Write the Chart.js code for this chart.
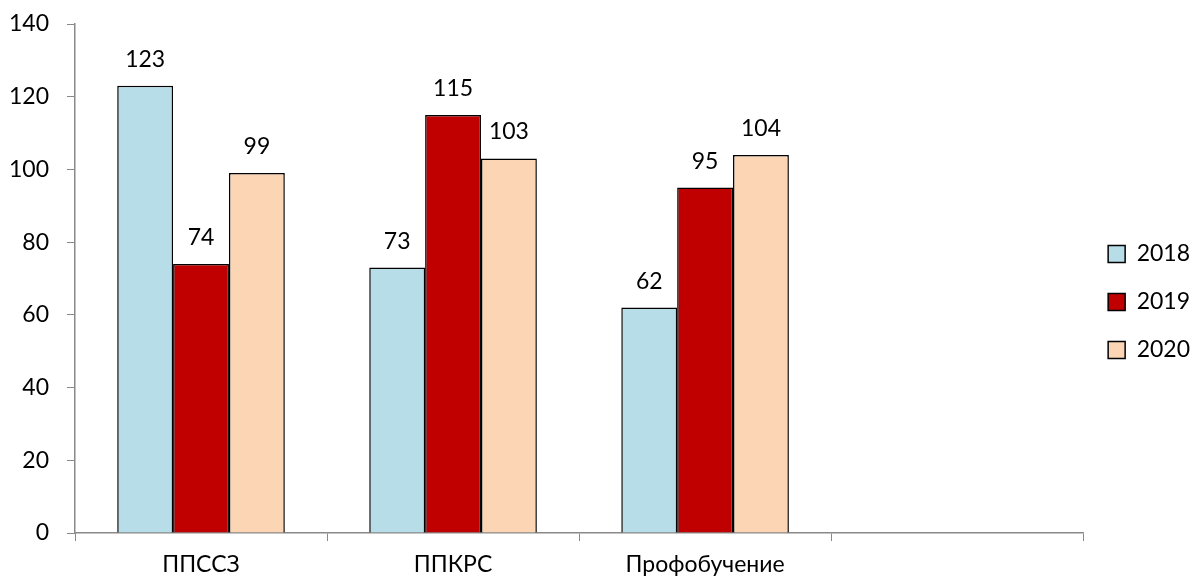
<!DOCTYPE html>
<html lang="ru">
<head>
  <meta charset="UTF-8">
  <title>ППССЗ / ППКРС / Профобучение</title>
  <script src="https://cdn.jsdelivr.net/npm/chart.js"></script>
  <style>
    html, body { margin: 0; padding: 0; background: #fff; }
    #wrap { width: 1200px; height: 580px; }
  </style>
</head>
<body>
  <div id="wrap"><canvas id="chart"></canvas></div>
  <script>
    // Категории (четвёртая пустая, как в оригинале)
    const categories = ['ППССЗ', 'ППКРС', 'Профобучение', ''];
    const years = ['2018', '2019', '2020'];
    const values2018 = [123, 73, 62, null];
    const values2019 = [74, 115, 95, null];
    const values2020 = [99, 103, 104, null];
    const yTicks = [0, 20, 40, 60, 80, 100, 120, 140];

    const fontFamily = 'Lato, "Open Sans", sans-serif';
    const fontSize = 23;
    const axisColor = '#898989';

    // Подписи значений над столбцами
    const barLabels = {
      id: 'barLabels',
      afterDatasetsDraw(chart) {
        const ctx = chart.ctx;
        ctx.save();
        ctx.font = fontSize + 'px ' + fontFamily;
        ctx.fillStyle = '#000';
        ctx.textAlign = 'center';
        ctx.textBaseline = 'bottom';
        chart.data.datasets.forEach((ds, i) => {
          chart.getDatasetMeta(i).data.forEach((bar, j) => {
            const v = ds.data[j];
            if (v === null || v === undefined) return;
            ctx.fillText(String(v), bar.x, bar.y - 15);
          });
        });
        ctx.restore();
      }
    };

    new Chart(document.getElementById('chart'), {
      type: 'bar',
      data: {
        labels: categories,
        datasets: [
          { label: years[0], data: values2018, backgroundColor: '#B7DDE8' },
          { label: years[1], data: values2019, backgroundColor: '#C00000' },
          { label: years[2], data: values2020, backgroundColor: '#FCD5B5' }
        ].map(d => Object.assign(d, { borderColor: '#000', borderWidth: 1.5, borderSkipped: 'bottom' }))
      },
      options: {
        responsive: true,
        maintainAspectRatio: false,
        animation: false,
        layout: { padding: { top: 24, left: 0, right: 0, bottom: 0 } },
        datasets: { bar: { barPercentage: 1, categoryPercentage: 0.665 } },
        scales: {
          x: {
            afterFit: axis => { axis.height = 47; },
            grid: { display: true, drawOnChartArea: false, offset: true, tickLength: 8, color: axisColor },
            border: { color: axisColor, width: 1.5 },
            ticks: { color: '#000', font: { family: fontFamily, size: fontSize }, padding: 10 }
          },
          y: {
            min: 0, max: 140,
            afterBuildTicks: axis => { axis.ticks = yTicks.map(v => ({ value: v })); },
            afterFit: axis => {
              axis.width = 75;
              axis.paddingTop = 0;
              axis.paddingBottom = 0;
            },
            grid: { display: true, drawOnChartArea: false, tickLength: 8, color: axisColor },
            border: { color: axisColor, width: 1.5 },
            ticks: { color: '#000', font: { family: fontFamily, size: fontSize }, padding: 18 }
          }
        },
        plugins: {
          tooltip: { enabled: false },
          legend: {
            position: 'right',
            labels: {
              color: '#000',
              font: { family: fontFamily, size: fontSize },
              boxWidth: 17,
              boxHeight: 17,
              padding: 25
            }
          }
        }
      },
      plugins: [barLabels]
    });
  </script>
</body>
</html>
